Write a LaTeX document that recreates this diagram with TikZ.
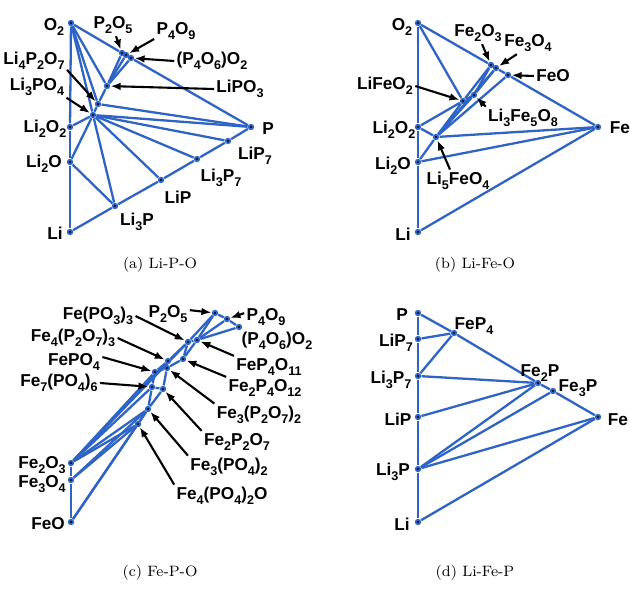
\documentclass[tikz,border=0pt]{standalone}
\usepackage{fontspec}
\setsansfont{Liberation Sans}
\usepackage{tikz}
\usetikzlibrary{arrows.meta,positioning,backgrounds}
\definecolor{TieBlue}{HTML}{2E64C6}
\newcommand{\sbs}[1]{\raisebox{-0.6ex}{\fontsize{6.3}{6.3}\selectfont #1}}
\newcommand{\labfont}{\fontsize{8.6}{9}\selectfont\sffamily\bfseries}

\begin{document}
\begin{tikzpicture}[x=0.5pt,y=-0.5pt,>=Latex,
  vertex/.style={circle,fill=TieBlue,inner sep=0pt,minimum size=3.2pt,
    path picture={\fill[black] (path picture bounding box.center) circle (0.55pt);}},
  tie/.style={TieBlue,line width=1.15pt},
  pointer/.style={-{Latex[length=5pt,width=3.8pt]},line width=1.05pt},
  lab/.style={font=\labfont,inner sep=1pt},
  subcap/.style={font=\fontsize{7.5}{8}\selectfont}]
  \useasboundingbox (0,0) rectangle (630,591);
  % (a) Li-P-O
  \foreach \n/\x/\y in {O2/71/23,P2O5/122/53,P4O9/126/55,P4O6O2/131/58,LiPO3/107/86,
      Li4P2O7/98/104,Li3PO4/93/115,Li2O2/70/127,Li2O/70/162,Li/70/232,Li3P/115/206,
      LiP/161/180,Li3P7/197/159,LiP7/228/141,P/251/127}
    \node[vertex] (a\n) at (\x,\y) {};
  \begin{scope}[on background layer]
    \foreach \u/\v in {O2/Li2O2,Li2O2/Li2O,Li2O/Li,O2/P2O5,P2O5/P4O9,P4O9/P4O6O2,P4O6O2/P,
        Li/Li3P,Li3P/LiP,LiP/Li3P7,Li3P7/LiP7,LiP7/P,Li2O/Li3PO4,Li3PO4/Li4P2O7,
        Li4P2O7/LiPO3,LiPO3/P2O5,LiPO3/P4O9,LiPO3/P4O6O2,O2/LiPO3,O2/Li4P2O7,O2/Li3PO4,
        Li2O2/Li3PO4,Li3PO4/Li3P,Li3PO4/LiP,Li3PO4/Li3P7,Li3PO4/LiP7,Li3PO4/P,
        Li4P2O7/P,Li2O/Li3P}
      \draw[tie] (a\u) -- (a\v);
  \end{scope}
  \node[lab] (laO2) at (54,27) {O\sbs{2}};
  \node[lab] (laP2O5) at (113,25) {P\sbs{2}O\sbs{5}};
  \node[lab] (laP4O9) at (176,31) {P\sbs{4}O\sbs{9}};
  \node[lab] (laP4O6O2) at (212,61) {(P\sbs{4}O\sbs{6})O\sbs{2}};
  \node[lab] (laLiPO3) at (240,89) {LiPO\sbs{3}};
  \node[lab] (laLi4P2O7) at (34,61) {Li\sbs{4}P\sbs{2}O\sbs{7}};
  \node[lab] (laLi3PO4) at (37,87) {Li\sbs{3}PO\sbs{4}};
  \node[lab] (laLi2O2) at (45,129) {Li\sbs{2}O\sbs{2}};
  \node[lab] (laLi2O) at (44,164) {Li\sbs{2}O};
  \node[lab] (laLi) at (55,233) {Li};
  \node[lab] (laP) at (268,129) {P};
  \node[lab] (laLiP7) at (255,156) {LiP\sbs{7}};
  \node[lab] (laLi3P7) at (221,178) {Li\sbs{3}P\sbs{7}};
  \node[lab] (laLiP) at (178,197) {LiP};
  \node[lab] (laLi3P) at (137,222) {Li\sbs{3}P};
  \draw[pointer] (laP2O5.-75) -- (aP2O5);
  \draw[pointer] (laP4O9.200) -- (aP4O9);
  \draw[pointer] (laP4O6O2.west) -- (aP4O6O2);
  \draw[pointer] (laLiPO3.west) -- (aLiPO3);
  \draw[pointer] (laLi4P2O7.-15) -- (aLi4P2O7);
  \draw[pointer] (laLi3PO4.-20) -- (aLi3PO4);
  \node[subcap] (capa) at (160,265) {(a) Li-P-O};
  % (b) Li-Fe-O
  \foreach \n/\x/\y in {O2/418/23,Fe2O3/491/65,Fe3O4/496/68,FeO/508/75,LiFeO2/463/101,
      Li3Fe5O8/474/95,Fe/598/127,Li2O2/418/127,Li5FeO4/436/137,Li2O/418/162,Li/418/232}
    \node[vertex] (b\n) at (\x,\y) {};
  \begin{scope}[on background layer]
    \foreach \u/\v in {O2/Li2O2,Li2O2/Li2O,Li2O/Li,O2/Fe2O3,Fe2O3/Fe3O4,Fe3O4/FeO,FeO/Fe,
        Li/Fe,Li2O/Fe,Li5FeO4/Fe,Li2O/Li5FeO4,Li2O2/Li5FeO4,Li2O2/LiFeO2,O2/LiFeO2,
        LiFeO2/Fe2O3,LiFeO2/Li5FeO4,LiFeO2/Li3Fe5O8,Li3Fe5O8/Fe2O3,Li3Fe5O8/Fe3O4,
        Li5FeO4/Li3Fe5O8,Li5FeO4/Fe3O4,Li5FeO4/FeO}
      \draw[tie] (b\u) -- (b\v);
  \end{scope}
  \node[lab] (lbO2) at (402,27) {O\sbs{2}};
  \node[lab] (lbFe2O3) at (478,33) {Fe\sbs{2}O\sbs{3}};
  \node[lab] (lbFe3O4) at (528,43) {Fe\sbs{3}O\sbs{4}};
  \node[lab] (lbFeO) at (553,76) {FeO};
  \node[lab] (lbLiFeO2) at (385,86) {LiFeO\sbs{2}};
  \node[lab] (lbLi3Fe5O8) at (523,118) {Li\sbs{3}Fe\sbs{5}O\sbs{8}};
  \node[lab] (lbFe) at (620,128) {Fe};
  \node[lab] (lbLi2O2) at (394,130) {Li\sbs{2}O\sbs{2}};
  \node[lab] (lbLi2O) at (393,166) {Li\sbs{2}O};
  \node[lab] (lbLi) at (403,234) {Li};
  \node[lab] (lbLi5FeO4) at (458,181) {Li\sbs{5}FeO\sbs{4}};
  \draw[pointer] (lbFe2O3.-70) -- (bFe2O3);
  \draw[pointer] (lbFe3O4.-135) -- (bFe3O4);
  \draw[pointer] (lbFeO.west) -- (bFeO);
  \draw[pointer] (lbLiFeO2.east) -- (bLiFeO2);
  \draw[pointer] (lbLi3Fe5O8.north west) -- (bLi3Fe5O8);
  \draw[pointer] (lbLi5FeO4.125) -- (bLi5FeO4);
  \node[subcap] (capb) at (475,265) {(b) Li-Fe-O};
  % (c) Fe-P-O
  \foreach \n/\x/\y in {P2O5/215/313,P4O9/227/319,P4O6O2/239/327,FePO33/188/342,
      FeP4O11/197/340,Fe4P2O73/168/361,Fe2P4O12/183/359,Fe3P2O72/167/368,FePO4/155/372,
      Fe7PO46/152/387,Fe2P2O7/163/389,Fe3PO42/148/409,Fe4PO42O/138/424,
      Fe2O3/71/463,Fe3O4/71/480,FeO/71/522}
    \node[vertex] (c\n) at (\x,\y) {};
  \begin{scope}[on background layer]
    \foreach \u/\v in {Fe2O3/Fe3O4,Fe3O4/FeO,P2O5/P4O9,P4O9/P4O6O2,P2O5/FePO33,
        P2O5/FeP4O11,P4O9/FeP4O11,P4O6O2/FeP4O11,FePO33/FeP4O11,FePO33/Fe4P2O73,
        FePO33/Fe2P4O12,FeP4O11/Fe2P4O12,Fe4P2O73/Fe3P2O72,Fe2P4O12/Fe3P2O72,
        Fe4P2O73/FePO4,Fe3P2O72/FePO4,Fe3P2O72/Fe2P2O7,FePO4/Fe7PO46,Fe7PO46/Fe2P2O7,
        Fe2P2O7/Fe3PO42,Fe7PO46/Fe3PO42,Fe3PO42/Fe4PO42O,Fe2O3/FePO4,Fe2O3/Fe7PO46,
        Fe2O3/Fe3PO42,Fe2O3/Fe4PO42O,Fe2O3/Fe4P2O73,Fe2O3/FePO33,Fe3O4/Fe4PO42O,
        Fe3O4/Fe3PO42,FeO/Fe4PO42O,FeO/Fe3PO42}
      \draw[tie] (c\u) -- (c\v);
  \end{scope}
  \node[lab] (lcFePO33) at (98,316) {Fe(PO\sbs{3})\sbs{3}};
  \node[lab] (lcFe4P2O73) at (73,338) {Fe\sbs{4}(P\sbs{2}O\sbs{7})\sbs{3}};
  \node[lab] (lcFePO4) at (74,362) {FePO\sbs{4}};
  \node[lab] (lcFe7PO46) at (59,383) {Fe\sbs{7}(PO\sbs{4})\sbs{6}};
  \node[lab] (lcP2O5) at (168,314) {P\sbs{2}O\sbs{5}};
  \node[lab] (lcP4O9) at (266,317) {P\sbs{4}O\sbs{9}};
  \node[lab] (lcP4O6O2) at (277,341) {(P\sbs{4}O\sbs{6})O\sbs{2}};
  \node[lab] (lcFeP4O11) at (269,367) {FeP\sbs{4}O\sbs{11}};
  \node[lab] (lcFe2P4O12) at (265,388) {Fe\sbs{2}P\sbs{4}O\sbs{12}};
  \node[lab] (lcFe3P2O72) at (259,415) {Fe\sbs{3}(P\sbs{2}O\sbs{7})\sbs{2}};
  \node[lab] (lcFe2P2O7) at (237,442) {Fe\sbs{2}P\sbs{2}O\sbs{7}};
  \node[lab] (lcFe3PO42) at (229,467) {Fe\sbs{3}(PO\sbs{4})\sbs{2}};
  \node[lab] (lcFe4PO42O) at (222,496) {Fe\sbs{4}(PO\sbs{4})\sbs{2}O};
  \node[lab] (lcFe2O3) at (42,465) {Fe\sbs{2}O\sbs{3}};
  \node[lab] (lcFe3O4) at (42,484) {Fe\sbs{3}O\sbs{4}};
  \node[lab] (lcFeO) at (48,524) {FeO};
  \draw[pointer] (lcFePO33.east) -- (cFePO33);
  \draw[pointer] (lcFe4P2O73.east) -- (cFe4P2O73);
  \draw[pointer] (lcFePO4.10) -- (cFePO4);
  \draw[pointer] (lcFe7PO46.east) -- (cFe7PO46);
  \draw[pointer] (lcP2O5.10) -- (cP2O5);
  \draw[pointer] (lcP4O9.170) -- (cP4O9);
  \draw[pointer] (lcFeP4O11.north west) -- (cFeP4O11);
  \draw[pointer] (lcFe2P4O12.north west) -- (cFe2P4O12);
  \draw[pointer] (lcFe3P2O72.north west) -- (cFe3P2O72);
  \draw[pointer] (lcFe2P2O7.north west) -- (cFe2P2O7);
  \draw[pointer] (lcFe3PO42.north west) -- (cFe3PO42);
  \draw[pointer] (lcFe4PO42O.north west) -- (cFe4PO42O);
  \node[subcap] (capc) at (160,573) {(c) Fe-P-O};
  % (d) Li-Fe-P
  \foreach \n/\x/\y in {P/418/313,LiP7/418/339,Li3P7/418/376,LiP/418/417,Li3P/418/469,
      Li/418/522,FeP4/454/333,Fe2P/538/383,Fe3P/553/391,Fe/598/417}
    \node[vertex] (d\n) at (\x,\y) {};
  \begin{scope}[on background layer]
    \foreach \u/\v in {P/LiP7,LiP7/Li3P7,Li3P7/LiP,LiP/Li3P,Li3P/Li,P/FeP4,FeP4/Fe2P,
        Fe2P/Fe3P,Fe3P/Fe,Li/Fe,LiP7/FeP4,Li3P7/FeP4,Li3P7/Fe2P,LiP/Fe2P,Li3P/Fe2P,
        Li3P/Fe3P,Li3P/Fe}
      \draw[tie] (d\u) -- (d\v);
  \end{scope}
  \node[lab] (ldP) at (402,315) {P};
  \node[lab] (ldLiP7) at (396,343) {LiP\sbs{7}};
  \node[lab] (ldLi3P7) at (391,380) {Li\sbs{3}P\sbs{7}};
  \node[lab] (ldFeP4) at (474,326) {FeP\sbs{4}};
  \node[lab] (ldFe2P) at (540,373) {Fe\sbs{2}P};
  \node[lab] (ldFe3P) at (578,388) {Fe\sbs{3}P};
  \node[lab] (ldFe) at (618,420) {Fe};
  \node[lab] (ldLiP) at (398,419) {LiP};
  \node[lab] (ldLi3P) at (393,472) {Li\sbs{3}P};
  \node[lab] (ldLi) at (402,524) {Li};
  \node[subcap] (capd) at (475,573) {(d) Li-Fe-P};
\end{tikzpicture}
\end{document}
